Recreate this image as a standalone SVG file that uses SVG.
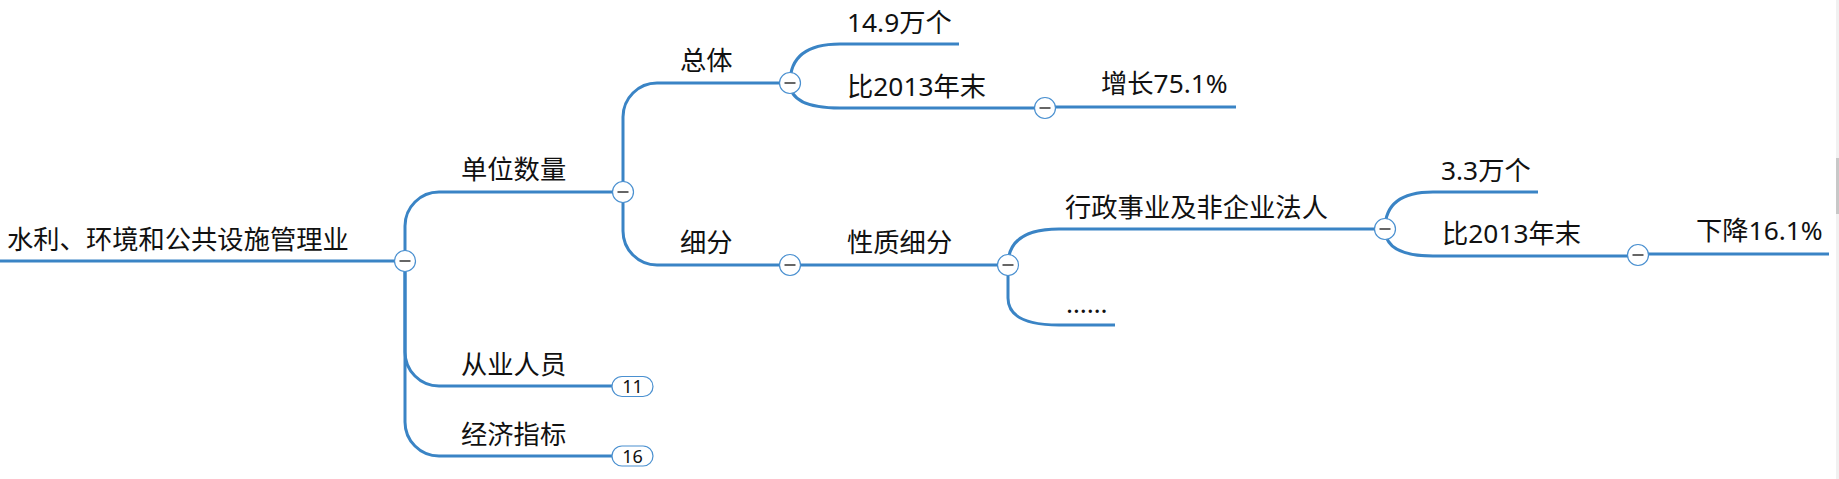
<svg xmlns="http://www.w3.org/2000/svg" width="1839" height="479" viewBox="0 0 1839 479">
<style>
.ln{fill:none;stroke:#3a84c5;stroke-width:3;}
.t{font-family:"Noto Sans","Noto Sans CJK SC",sans-serif;font-size:26.3px;fill:#111;}
.tg{fill:#fff;stroke:#4a90d0;stroke-width:1.2;}
.mn{stroke:#333;stroke-width:1.5;}
.bd{fill:#fff;stroke:#4a90d0;stroke-width:1.2;}
.bt{font-family:"Noto Sans",sans-serif;font-size:18px;fill:#111;text-anchor:middle;}
</style>
<defs>
<g id="tog"><circle class="tg" cx="0" cy="0" r="10.5"/><line class="mn" x1="-5.5" y1="0" x2="5.5" y2="0"/></g>
</defs>
<rect x="0" y="0" width="1839" height="479" fill="#fff"/>
<g id="connectors">
<path class="ln" d="M0,261 H405"/>
<path class="ln" d="M405,261 V226 A34,34 0 0 1 439,192 H623"/>
<path class="ln" d="M405,261 V352 A34,34 0 0 0 439,386 H612"/>
<path class="ln" d="M405,261 V422 A34,34 0 0 0 439,456 H612"/>
<path class="ln" d="M623,192 V117 A34,34 0 0 1 657,83 H790"/>
<path class="ln" d="M623,192 V231 A34,34 0 0 0 657,265 H790"/>
<path class="ln" d="M790,83 Q790,44 840,44 H959"/>
<path class="ln" d="M790,83 Q790,108 840,108 H1045"/>
<path class="ln" d="M1045,107 H1236"/>
<path class="ln" d="M790,265 H1008"/>
<path class="ln" d="M1008,265 Q1008,229 1059,229 H1385"/>
<path class="ln" d="M1008,265 V298 Q1008,325 1059,325 H1115"/>
<path class="ln" d="M1385,229 Q1385,192 1433,192 H1538"/>
<path class="ln" d="M1385,229 Q1385,256 1433,256 H1638"/>
<path class="ln" d="M1638,254 H1829"/>
</g>
<g id="node-root"><text class="t" x="7" y="249">水利、环境和公共设施管理业</text><use href="#tog" x="405" y="261"/></g>
<g id="node-danwei"><text class="t" x="461" y="179">单位数量</text><use href="#tog" x="623" y="192"/></g>
<g id="node-zongti"><text class="t" x="680" y="70">总体</text><use href="#tog" x="790" y="83"/></g>
<g id="node-149"><text class="t" x="847" y="32">14.9万个</text></g>
<g id="node-bi1"><text class="t" x="847" y="96">比2013年末</text><use href="#tog" x="1045" y="108"/></g>
<g id="node-zeng"><text class="t" x="1101" y="93">增长75.1%</text></g>
<g id="node-xifen"><text class="t" x="680" y="252">细分</text><use href="#tog" x="790" y="265"/></g>
<g id="node-xingzhi"><text class="t" x="847" y="252">性质细分</text><use href="#tog" x="1008" y="265"/></g>
<g id="node-xingzheng"><text class="t" x="1065" y="217">行政事业及非企业法人</text><use href="#tog" x="1385" y="229"/></g>
<g id="node-dots"><text class="t" x="1066" y="313">……</text></g>
<g id="node-33"><text class="t" x="1441" y="180">3.3万个</text></g>
<g id="node-bi2"><text class="t" x="1442" y="243">比2013年末</text><use href="#tog" x="1638" y="255"/></g>
<g id="node-xiajiang"><text class="t" x="1696" y="240">下降16.1%</text></g>
<g id="node-congye"><text class="t" x="461" y="374">从业人员</text><rect class="bd" x="612" y="376.5" width="41" height="20" rx="10"/><text class="bt" x="632.5" y="393">11</text></g>
<g id="node-jingji"><text class="t" x="461" y="444">经济指标</text><rect class="bd" x="612" y="446" width="41" height="20" rx="10"/><text class="bt" x="632.5" y="462.5">16</text></g>
<g id="scrollbar"><rect x="1836" y="0" width="3" height="479" fill="#f1f1f1"/><rect x="1836" y="158" width="3" height="56" fill="#c8c8c8"/></g>
</svg>
